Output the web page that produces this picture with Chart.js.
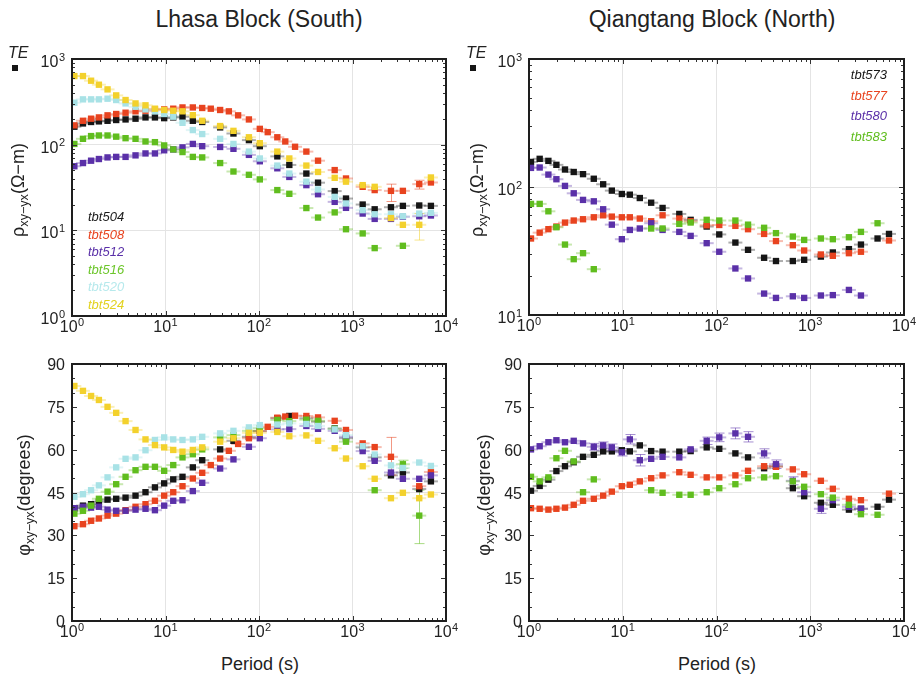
<!DOCTYPE html>
<html><head><meta charset="utf-8">
<script src="https://cdn.jsdelivr.net/npm/chart.js@4.4.1/dist/chart.umd.min.js"></script>
<style>
body{margin:0;background:#fff;}
#wrap{position:relative;width:919px;height:678px;overflow:hidden;font-family:"Liberation Sans",Arial,Helvetica,sans-serif;color:#222;}
canvas{position:absolute;}
.t{position:absolute;white-space:nowrap;}
.ttl{font-size:23px;line-height:24px;text-align:center;width:400px;}
.per{font-size:18px;line-height:18px;text-align:center;width:200px;}
.yt{font-size:18px;line-height:20px;transform:translate(-50%,-50%) rotate(-90deg);}
.yt sub{font-size:70%;vertical-align:-0.3em;line-height:0;}
.leg{font-size:13px;font-style:italic;}
.te{font-size:16px;font-style:italic;line-height:16px;}
.mk{position:absolute;width:6px;height:6px;background:#151515;}
</style></head>
<body><div id="wrap">
<canvas id="cTL" width="460" height="300" style="left:0;top:40px"></canvas>
<canvas id="cBL" width="460" height="300" style="left:0;top:340px"></canvas>
<canvas id="cTR" width="459" height="300" style="left:460px;top:40px"></canvas>
<canvas id="cBR" width="459" height="300" style="left:460px;top:340px"></canvas>

<div class="t ttl" style="left:59px;top:7px">Lhasa Block (South)</div>
<div class="t ttl" style="left:512px;top:7px">Qiangtang Block (North)</div>
<div class="t per" style="left:160px;top:655px">Period (s)</div>
<div class="t per" style="left:617px;top:655px">Period (s)</div>

<div class="t yt" style="left:18px;top:190px">ρ<sub>xy−yx</sub>(Ω−m)</div>
<div class="t yt" style="left:24px;top:495px">φ<sub>xy−yx</sub>(degrees)</div>
<div class="t yt" style="left:477px;top:190px">ρ<sub>xy−yx</sub>(Ω−m)</div>
<div class="t yt" style="left:484px;top:495px">φ<sub>xy−yx</sub>(degrees)</div>

<div class="t te" style="left:8px;top:45px">TE</div>
<div class="mk" style="left:12px;top:65px"></div>
<div class="t te" style="left:466px;top:45px">TE</div>
<div class="mk" style="left:470px;top:65px"></div>

<div class="t leg" id="legS" style="left:88px;top:208px;line-height:17.5px"></div>
<div class="t leg" id="legN" style="right:32px;top:65px;line-height:20.7px;text-align:right"></div>
</div>
<script>
// ---------------- DATA ----------------
const PERIOD_S = [1.06, 1.31, 1.60, 1.94, 2.40, 2.97, 3.74, 4.78, 6.11, 7.71, 9.68, 12.1, 15.2, 19.6, 24.7, 30.5, 38.4, 47.6, 53.3, 59.8, 78, 102, 124, 157, 191, 211, 243, 321, 428, 645, 852, 1285, 1727, 2578, 3458, 5173, 6896];
const PERIOD_N = [1.05, 1.30, 1.61, 1.96, 2.42, 3.0, 3.77, 4.91, 6.18, 7.65, 9.78, 11.9, 15.2, 20.1, 26.6, 40.1, 53, 78.6, 107, 159, 217, 322, 431, 652, 861, 1298, 1742, 2585, 3474, 5224, 6918];

const STATIONS_S = ['tbt504', 'tbt508', 'tbt512', 'tbt516', 'tbt520', 'tbt524'];
const STATIONS_N = ['tbt573', 'tbt577', 'tbt580', 'tbt583'];

const X_TICKS = [1, 10, 100, 1000, 10000];
const RHO_TICKS_S = [1, 10, 100, 1000];
const RHO_TICKS_N = [10, 100, 1000];
const PHI_TICKS = [0, 15, 30, 45, 60, 75, 90];

// apparent resistivity, south (Ω·m)
const RHO_504 = [162,177,184,187,190,194,197,201,208,208,204,208,212,190,184,null,159,null,135,null,113,96,null,73,null,58,null,46,36,28.7,23.5,20,17.6,18.6,19.3,19.5,19.3];
const RHO_508 = [168,190,201,208,220,228,236,245,249,258,258,263,272,272,268,263,254,245,null,220,197,153,140,122,109,null,94.5,83,65,50.5,40.3,32.2,29.5,28.9,28.9,34.6,36.2];
const RHO_512 = [56,61,65,68,71,72,72,75,79,79,86,88,93,102,96,null,94,null,89.5,null,76,64,null,53,null,42,null,33.7,26.4,21.5,18.3,15.7,13.6,13.6,14.4,14.6,14.9];
const RHO_516 = [102,117,126,128,128,124,119,117,109,107,98,88,82,72,71,null,61,null,48.6,null,44.5,39.3,null,29.5,null,26.7,null,18.2,14.1,16.2,10.3,9.2,6.2,null,6.6,null,null];
const RHO_520 = [309,338,338,338,344,332,303,277,258,245,228,212,180,148,133,null,117,null,102,null,83,69,null,57,null,46,null,37,30,24.6,20.6,17.2,15.4,15.4,14.6,15.7,16];
const RHO_524 = [632,632,558,501,442,376,332,303,288,263,254,249,245,221,190,null,165,null,145,null,122,104,null,83,null,69,null,57,48,41,37,33.7,32.2,13.9,11.6,11.6,41.4];

// phase, south (degrees)
const PHI_504 = [39.5,40.4,40.9,41.8,42.5,42.8,43.2,43.9,45.1,46.8,48.2,49.6,50.5,53.8,56.3,null,60.1,null,63.1,null,64.5,66.5,null,71.0,null,71.8,null,71.0,69.8,67.4,64,60.8,57.3,51.0,52.0,46.2,48.9];
const PHI_508 = [33.2,33.9,35.1,35.9,36.9,37.6,38.8,40.0,40.9,42.1,43.9,45.1,47.2,49.9,51.9,54.6,56.9,59.6,null,62.0,64.0,66.5,68.0,71.2,71.6,null,71.9,71.8,71.3,70.1,66.9,62.2,60.9,57.5,null,47.2,52.2];
const PHI_512 = [39.5,40.0,39.7,40.0,39.0,38.6,38.6,39.0,39.3,38.8,40.4,42.1,42.3,45.5,48.4,null,53.4,null,56.6,null,61.0,64.0,null,67.1,null,67.2,null,68.3,67.3,66.6,64.5,59.5,56.1,52.0,49.8,49.8,51.0];
const PHI_516 = [37.6,38.6,40.4,42.8,45.3,47.9,50.5,52.8,54.0,54.0,52.6,54.6,57.3,58.4,60.1,null,64.3,null,65.1,null,66.6,67.5,null,70.4,null,70.0,null,70.5,70.1,67.3,62.8,null,45.8,null,54.9,36.9,null];
const PHI_520 = [43.5,44.4,45.8,47.5,50.3,53.8,56.8,57.3,59.8,63.4,64.3,63.6,63.4,63.6,64.5,null,65.7,null,66.6,null,67.8,68.6,null,68.8,null,69.2,null,69.0,68.3,67.1,65.1,61.2,58.3,54.5,53.6,55.5,54.3];
const PHI_524 = [82.3,80.6,78.8,77.4,75.0,72.9,70.0,66.9,63.6,61.6,60.8,59.9,59.3,59.9,60.8,null,62.8,null,64.0,null,65.9,65.9,null,66.2,null,64.7,null,65.0,63.1,60.5,56.9,54.2,49.8,43.0,44.9,43.0,44.3];

// apparent resistivity, north
const RHO_573 = [157,166,160,149,137,131,126,116,105,93.7,88.2,87.1,82,75.4,68.6,61.6,55.4,49.1,42.6,36.8,32.3,28.0,26.4,26.4,27.0,28.6,30.8,32.7,35.5,39.6,43.0];
const RHO_577 = [39.6,44.0,46.8,49.1,52.7,54.7,56.0,58.0,60.1,58.7,58.0,58.0,56.7,54.0,60.1,56.7,54,50.2,50.5,49.7,46.8,43.0,37.8,35.1,31.9,29.7,29.0,30.4,31.2,null,38.2];
const RHO_580 = [141,142,125,115,102,89.3,79.3,77.3,67.0,50.8,39.1,46.2,47.4,52.1,46.2,44.6,41.5,36.4,31.2,23.1,19.3,14.7,13.6,14.0,13.6,14.2,14.3,15.7,14.2,null,null];
const RHO_583 = [73.8,73.8,64.6,48.5,35.5,27.3,30.4,22.8,null,null,null,null,null,47.4,47.4,51.5,52.8,55.4,54.7,54.7,50.8,48.0,43.6,41.0,38.6,39.6,39.1,40.5,44.6,52.1,null];

// phase, north
const PHI_573 = [45.6,47.3,49.5,52.5,54.2,55.6,57.5,58.2,59.4,59.4,59.8,59.4,61.5,59.5,59.3,59.3,59.5,60.8,60.3,58.7,57.3,53.5,54.2,46.5,43.7,41.4,40.7,39.0,39.3,40.0,42.5];
const PHI_577 = [39.5,39.3,39.0,39.3,39.7,40.7,42.1,42.8,43.9,45.3,47.2,47.7,48.9,50.0,51.0,52.1,51.2,50.3,50.3,51.0,52.6,54.2,54.0,53.1,51.4,49.1,46.3,42.8,42.3,null,44.6];
const PHI_580 = [60.1,61.2,62.6,63.3,62.6,63.1,62.2,61.0,61.5,60.8,59.1,63.6,56.3,56.8,57.5,57.3,60.1,63.1,64.3,65.7,64.5,58.7,54.9,49.1,45.1,39.3,42.3,40.0,39.3,null,null];
const PHI_583 = [50.5,48.9,50.3,57.0,59.6,55.9,45.1,49.6,null,null,null,null,null,45.8,44.9,44.2,44.2,45.1,46.5,47.9,50.0,50.3,50.7,48.9,47.0,44.4,43.2,40.7,37.4,37.2,null];

// error bars: [period index, low, high]
const ERR_RHO_508 = [[33, 21.7, 34.6], [35, 30.3, 38.4]];
const ERR_RHO_524 = [[35, 7.7, 15.7]];
const ERR_PHI_508 = [[33, 51.1, 64.3]];
const ERR_PHI_516 = [[35, 27.1, 45.8], [34, 53.5, 56.3]];
const ERR_PHI_580 = [[7,59.8,62.2],[8,60.3,62.7],[9,59.6,62.0],[10,57.8,60.4],[11,62.0,65.3],[12,54.3,58.3],[17,61.8,64.4],[18,62.8,65.8],[19,63.8,67.6],[20,62.7,66.3],[21,57.1,60.3],[22,53.4,56.4],[23,47.7,50.5],[25,37.7,40.9]];

// ---------------- STYLE ----------------
const COLORS_S = ['#151515', '#e8431f', '#5a30a8', '#60bd1e', '#a8e2e6', '#f3d12c'];
const COLORS_N = ['#151515', '#e8431f', '#5a30a8', '#60bd1e'];
const LEGEND_TEXT_S = ['#1a1a1a', '#e8431f', '#5a30a8', '#6cc62a', '#b6e9ec', '#e3d21e'];

function tint(hex, a) {
  const n = parseInt(hex.slice(1), 16);
  return 'rgba(' + ((n >> 16) & 255) + ',' + ((n >> 8) & 255) + ',' + (n & 255) + ',' + a + ')';
}

function series(periods, vals, errs, color, order) {
  const data = [];
  vals.forEach((v, i) => { if (v !== null) data.push({ x: periods[i], y: v }); });
  return {
    data, backgroundColor: color, borderColor: color, pointStyle: 'rect',
    pointRadius: 4.5, pointHoverRadius: 4.5, pointBorderWidth: 0, showLine: false, order,
    errorBars: (errs || []).map(([i, lo, hi]) => ({ x: periods[i], lo, hi }))
  };
}

const LABEL_FONT = '16px "Liberation Sans", Arial, sans-serif';
const EXP_FONT = '11px "Liberation Sans", Arial, sans-serif';
function powLabel(ctx, e, x, baseline, align) {
  ctx.font = LABEL_FONT; const w1 = ctx.measureText('10').width;
  ctx.font = EXP_FONT; const w2 = ctx.measureText(String(e)).width;
  const total = w1 + w2 + 0.5;
  const left = align === 'center' ? x - total / 2 : x - total;
  ctx.font = LABEL_FONT; ctx.fillText('10', left, baseline);
  ctx.font = EXP_FONT; ctx.fillText(String(e), left + w1 + 0.5, baseline - 6.5);
}

const decor = {
  id: 'decor',
  beforeDatasetsDraw(chart) {
    const ctx = chart.ctx, xs = chart.scales.x, ys = chart.scales.y, a = chart.chartArea;
    ctx.save();
    ctx.beginPath(); ctx.rect(a.left, a.top, a.right - a.left, a.bottom - a.top); ctx.clip();
    chart.data.datasets.forEach((ds, di) => {
      const meta = chart.getDatasetMeta(di);
      ctx.strokeStyle = tint(ds.backgroundColor, 0.35); ctx.lineWidth = 2;
      meta.data.forEach(p => { ctx.beginPath(); ctx.moveTo(p.x - 7, p.y); ctx.lineTo(p.x + 7, p.y); ctx.stroke(); });
      ctx.strokeStyle = tint(ds.backgroundColor, 0.55); ctx.lineWidth = 1;
      ds.errorBars.forEach(e => {
        const x = Math.round(xs.getPixelForValue(e.x)) + 0.5;
        const y1 = ys.getPixelForValue(e.lo), y2 = ys.getPixelForValue(e.hi);
        ctx.beginPath();
        ctx.moveTo(x, y1); ctx.lineTo(x, y2);
        ctx.moveTo(x - 5, y1); ctx.lineTo(x + 5, y1);
        ctx.moveTo(x - 5, y2); ctx.lineTo(x + 5, y2);
        ctx.stroke();
      });
    });
    ctx.restore();
  },
  afterDatasetsDraw(chart, args, o) {
    const ctx = chart.ctx, a = chart.chartArea, xs = chart.scales.x, ys = chart.scales.y;
    ctx.save();
    ctx.strokeStyle = '#333'; ctx.lineWidth = 1;
    const tick = (x1, y1, x2, y2) => { ctx.beginPath(); ctx.moveTo(x1, y1); ctx.lineTo(x2, y2); ctx.stroke(); };
    for (let d = 0; d < 4; d++) for (let m = 1; m <= 9; m++) {
      const v = m * Math.pow(10, d); if (v <= 1) continue;
      const x = Math.round(xs.getPixelForValue(v)) + 0.5, len = m === 1 ? 5 : 3;
      tick(x, a.top, x, a.top + len); tick(x, a.bottom, x, a.bottom - len);
    }
    if (o.yType === 'log') {
      const d0 = Math.round(Math.log10(ys.min)), d1 = Math.round(Math.log10(ys.max));
      for (let d = d0; d < d1; d++) for (let m = 1; m <= 9; m++) {
        const v = m * Math.pow(10, d); if (v <= ys.min) continue;
        const y = Math.round(ys.getPixelForValue(v)) + 0.5, len = m === 1 ? 5 : 3;
        tick(a.left, y, a.left + len, y); tick(a.right, y, a.right - len, y);
      }
    } else {
      for (let v = 5; v < 90; v += 5) {
        const y = Math.round(ys.getPixelForValue(v)) + 0.5, len = v % 15 === 0 ? 5 : 3;
        tick(a.left, y, a.left + len, y); tick(a.right, y, a.right - len, y);
      }
    }
    ctx.strokeStyle = '#1e1e1e'; ctx.lineWidth = 2;
    ctx.strokeRect(a.left, a.top, a.right - a.left, a.bottom - a.top);
    ctx.restore();
  },
  afterDraw(chart, args, o) {
    const ctx = chart.ctx, a = chart.chartArea, xs = chart.scales.x, ys = chart.scales.y;
    ctx.save();
    ctx.fillStyle = '#222'; ctx.textAlign = 'left'; ctx.textBaseline = 'alphabetic';
    X_TICKS.forEach(v => powLabel(ctx, Math.round(Math.log10(v)), xs.getPixelForValue(v), a.bottom + 16, 'center'));
    if (o.yType === 'log') {
      o.yTicks.forEach(v => powLabel(ctx, Math.round(Math.log10(v)), a.left - 7, ys.getPixelForValue(v) + 8, 'right'));
    } else {
      ctx.font = LABEL_FONT; ctx.textAlign = 'right';
      o.yTicks.forEach(v => ctx.fillText(String(v), a.left - 7, ys.getPixelForValue(v) + 6));
    }
    ctx.restore();
  }
};

function gridColor(ticks, inner) {
  return c => {
    const v = c.tick ? c.tick.value : null;
    return inner.includes(v) ? '#e4e4e4' : 'rgba(0,0,0,0)';
  };
}

function panel(id, datasets, opt) {
  return new Chart(document.getElementById(id), {
    type: 'scatter',
    data: { datasets },
    options: {
      responsive: false, animation: false, events: [],
      layout: { padding: { top: opt.top, right: opt.right, left: 0, bottom: 0 } },
      plugins: { legend: { display: false }, tooltip: { enabled: false }, decor: opt },
      scales: {
        x: {
          type: 'logarithmic', min: 1, max: 10000,
          afterBuildTicks: s => { s.ticks = X_TICKS.map(v => ({ value: v })); },
          afterFit: s => { s.height = opt.xh; },
          ticks: { display: false }, border: { display: false },
          grid: { drawTicks: false, lineWidth: 1, color: gridColor(X_TICKS, [10, 100, 1000]) }
        },
        y: {
          type: opt.yType === 'log' ? 'logarithmic' : 'linear', min: opt.yMin, max: opt.yMax,
          afterBuildTicks: s => { s.ticks = opt.yTicks.map(v => ({ value: v })); },
          afterFit: s => { s.width = opt.yw; },
          ticks: { display: false }, border: { display: false },
          grid: { drawTicks: false, lineWidth: 1, color: gridColor(opt.yTicks, opt.yInner) }
        }
      }
    },
    plugins: [decor]
  });
}

const rhoS = [RHO_504, RHO_508, RHO_512, RHO_516, RHO_520, RHO_524];
const rhoSErr = [null, ERR_RHO_508, null, null, null, ERR_RHO_524];
const phiS = [PHI_504, PHI_508, PHI_512, PHI_516, PHI_520, PHI_524];
const phiSErr = [null, ERR_PHI_508, null, ERR_PHI_516, null, null];
const rhoN = [RHO_573, RHO_577, RHO_580, RHO_583];
const phiN = [PHI_573, PHI_577, PHI_580, PHI_583];
const phiNErr = [null, null, ERR_PHI_580, null];

panel('cTL', rhoS.map((v, i) => series(PERIOD_S, v, rhoSErr[i], COLORS_S[i], 5 - i)),
  { top: 19, right: 14, yw: 72, xh: 24, yType: 'log', yMin: 1, yMax: 1000, yTicks: RHO_TICKS_S, yInner: [10, 100] });
panel('cBL', phiS.map((v, i) => series(PERIOD_S, v, phiSErr[i], COLORS_S[i], 5 - i)),
  { top: 24, right: 14, yw: 72, xh: 19, yType: 'phase', yMin: 0, yMax: 90, yTicks: PHI_TICKS, yInner: [45] });
panel('cTR', rhoN.map((v, i) => series(PERIOD_N, v, null, COLORS_N[i], 3 - i)),
  { top: 19, right: 15, yw: 69, xh: 25, yType: 'log', yMin: 10, yMax: 1000, yTicks: RHO_TICKS_N, yInner: [100] });
panel('cBR', phiN.map((v, i) => series(PERIOD_N, v, phiNErr[i], COLORS_N[i], 3 - i)),
  { top: 24, right: 15, yw: 69, xh: 19, yType: 'phase', yMin: 0, yMax: 90, yTicks: PHI_TICKS, yInner: [45] });

document.getElementById('legS').innerHTML = STATIONS_S.map((s, i) => '<div style="color:' + LEGEND_TEXT_S[i] + '">' + s + '</div>').join('');
document.getElementById('legN').innerHTML = STATIONS_N.map((s, i) => '<div style="color:' + COLORS_N[i] + '">' + s + '</div>').join('');
</script>
</body></html>
